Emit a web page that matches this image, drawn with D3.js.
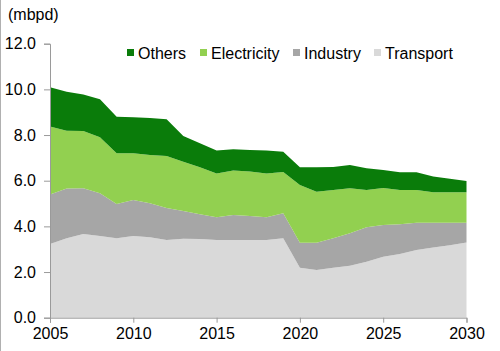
<!DOCTYPE html>
<html>
<head>
<meta charset="utf-8">
<script src="https://cdn.jsdelivr.net/npm/d3@7"></script>
<style>
  html, body { margin: 0; padding: 0; background: #fff; }
  svg { display: block; font-family: "Liberation Sans", Arial, sans-serif; }
</style>
</head>
<body>
<div id="chart"></div>
<script>
// data (mbpd)
const years = d3.range(2005, 2031);
const transport = [3.23, 3.48, 3.67, 3.58, 3.48, 3.58, 3.52, 3.40, 3.46, 3.45, 3.40, 3.40, 3.40,
                   3.40, 3.48, 2.19, 2.09, 2.19, 2.28, 2.45, 2.67, 2.79, 2.97, 3.07, 3.17, 3.29];
const industry = [2.17, 2.18, 2.00, 1.87, 1.50, 1.58, 1.49, 1.40, 1.21, 1.08, 1.00, 1.10, 1.05,
                  1.00, 1.09, 1.09, 1.19, 1.29, 1.42, 1.51, 1.39, 1.30, 1.19, 1.09, 0.99, 0.87];
const electricity = [2.97, 2.53, 2.51, 2.45, 2.22, 2.04, 2.12, 2.28, 2.16, 2.06, 1.92, 1.95, 1.95,
                     1.92, 1.81, 2.53, 2.24, 2.11, 1.97, 1.63, 1.62, 1.50, 1.43, 1.33, 1.33, 1.33];
const others = [1.72, 1.71, 1.60, 1.67, 1.60, 1.58, 1.62, 1.61, 1.13, 1.05, 1.00, 0.93, 0.95,
                1.00, 0.89, 0.78, 1.07, 1.01, 1.02, 0.96, 0.79, 0.78, 0.78, 0.69, 0.59, 0.50];
const xTicks = [2005, 2010, 2015, 2020, 2025, 2030];
const yTicks = [0, 2, 4, 6, 8, 10, 12];
const keys = ["Transport", "Industry", "Electricity", "Others"];
const legendOrder = ["Others", "Electricity", "Industry", "Transport"];

function init() {
    const w = 500, h = 351;
    const margin = { top: 43.7, right: 33.5, bottom: 33.3, left: 50 };
    const fontSize = "16px";

    const table = years.map((yr, i) => ({
        year: yr,
        Transport: transport[i],
        Industry: industry[i],
        Electricity: electricity[i],
        Others: others[i]
    }));

    const x = d3.scaleLinear()
                .domain([2005, 2030])
                .range([margin.left, w - margin.right]);

    const y = d3.scaleLinear()
                .domain([0, 12])
                .range([h - margin.bottom, margin.top]);

    const color = d3.scaleOrdinal()
                    .domain(keys)
                    .range(["#d9d9d9", "#a6a6a6", "#92d050", "#0a7c0a"]);

    const svg = d3.select("#chart")
                  .append("svg")
                  .attr("width", w)
                  .attr("height", h);

    // thin frame line on the left edge
    svg.append("line")
       .attr("x1", 0.5).attr("x2", 0.5)
       .attr("y1", 0).attr("y2", h)
       .attr("stroke", "#b0b0b0");

    const series = d3.stack().keys(keys)(table);

    const area = d3.area()
                   .x(d => x(d.data.year))
                   .y0(d => y(d[0]))
                   .y1(d => y(d[1]));

    svg.append("g")
       .selectAll("path")
       .data(series)
       .join("path")
       .attr("fill", d => color(d.key))
       .attr("d", area);

    // y axis
    svg.append("g")
       .attr("transform", `translate(${margin.left},0)`)
       .call(d3.axisLeft(y).tickValues(yTicks).tickFormat(d3.format(".1f")).tickSize(6).tickPadding(8))
       .call(g => g.selectAll(".domain, line").attr("stroke", "#9a9a9a"))
       .call(g => g.selectAll("text").attr("fill", "#000").style("font-size", fontSize)
                   .style("font-family", "'Liberation Sans', Arial, sans-serif"));

    // x axis
    svg.append("g")
       .attr("transform", `translate(0,${h - margin.bottom})`)
       .call(d3.axisBottom(x).tickValues(xTicks).tickFormat(d3.format("d")).tickSize(5).tickSizeOuter(5).tickPadding(5))
       .call(g => g.selectAll(".domain, line").attr("stroke", "#9a9a9a"))
       .call(g => g.selectAll("text").attr("fill", "#000").style("font-size", fontSize)
                   .style("font-family", "'Liberation Sans', Arial, sans-serif"));

    // unit label
    svg.append("text")
       .attr("x", 8)
       .attr("y", 20)
       .style("font-size", fontSize)
       .text("(mbpd)");

    // legend
    const legendX = [127, 200, 293, 374];
    const legend = svg.append("g");
    legendOrder.forEach((k, i) => {
        const item = legend.append("g")
                           .attr("transform", `translate(${legendX[i]},53)`);
        item.append("rect")
            .attr("x", 0)
            .attr("y", -4)
            .attr("width", 7)
            .attr("height", 7)
            .attr("fill", color(k));
        item.append("text")
            .attr("x", 11)
            .attr("y", 5.5)
            .style("font-size", fontSize)
            .text(k);
    });
}

window.onload = init;
</script>
</body>
</html>
